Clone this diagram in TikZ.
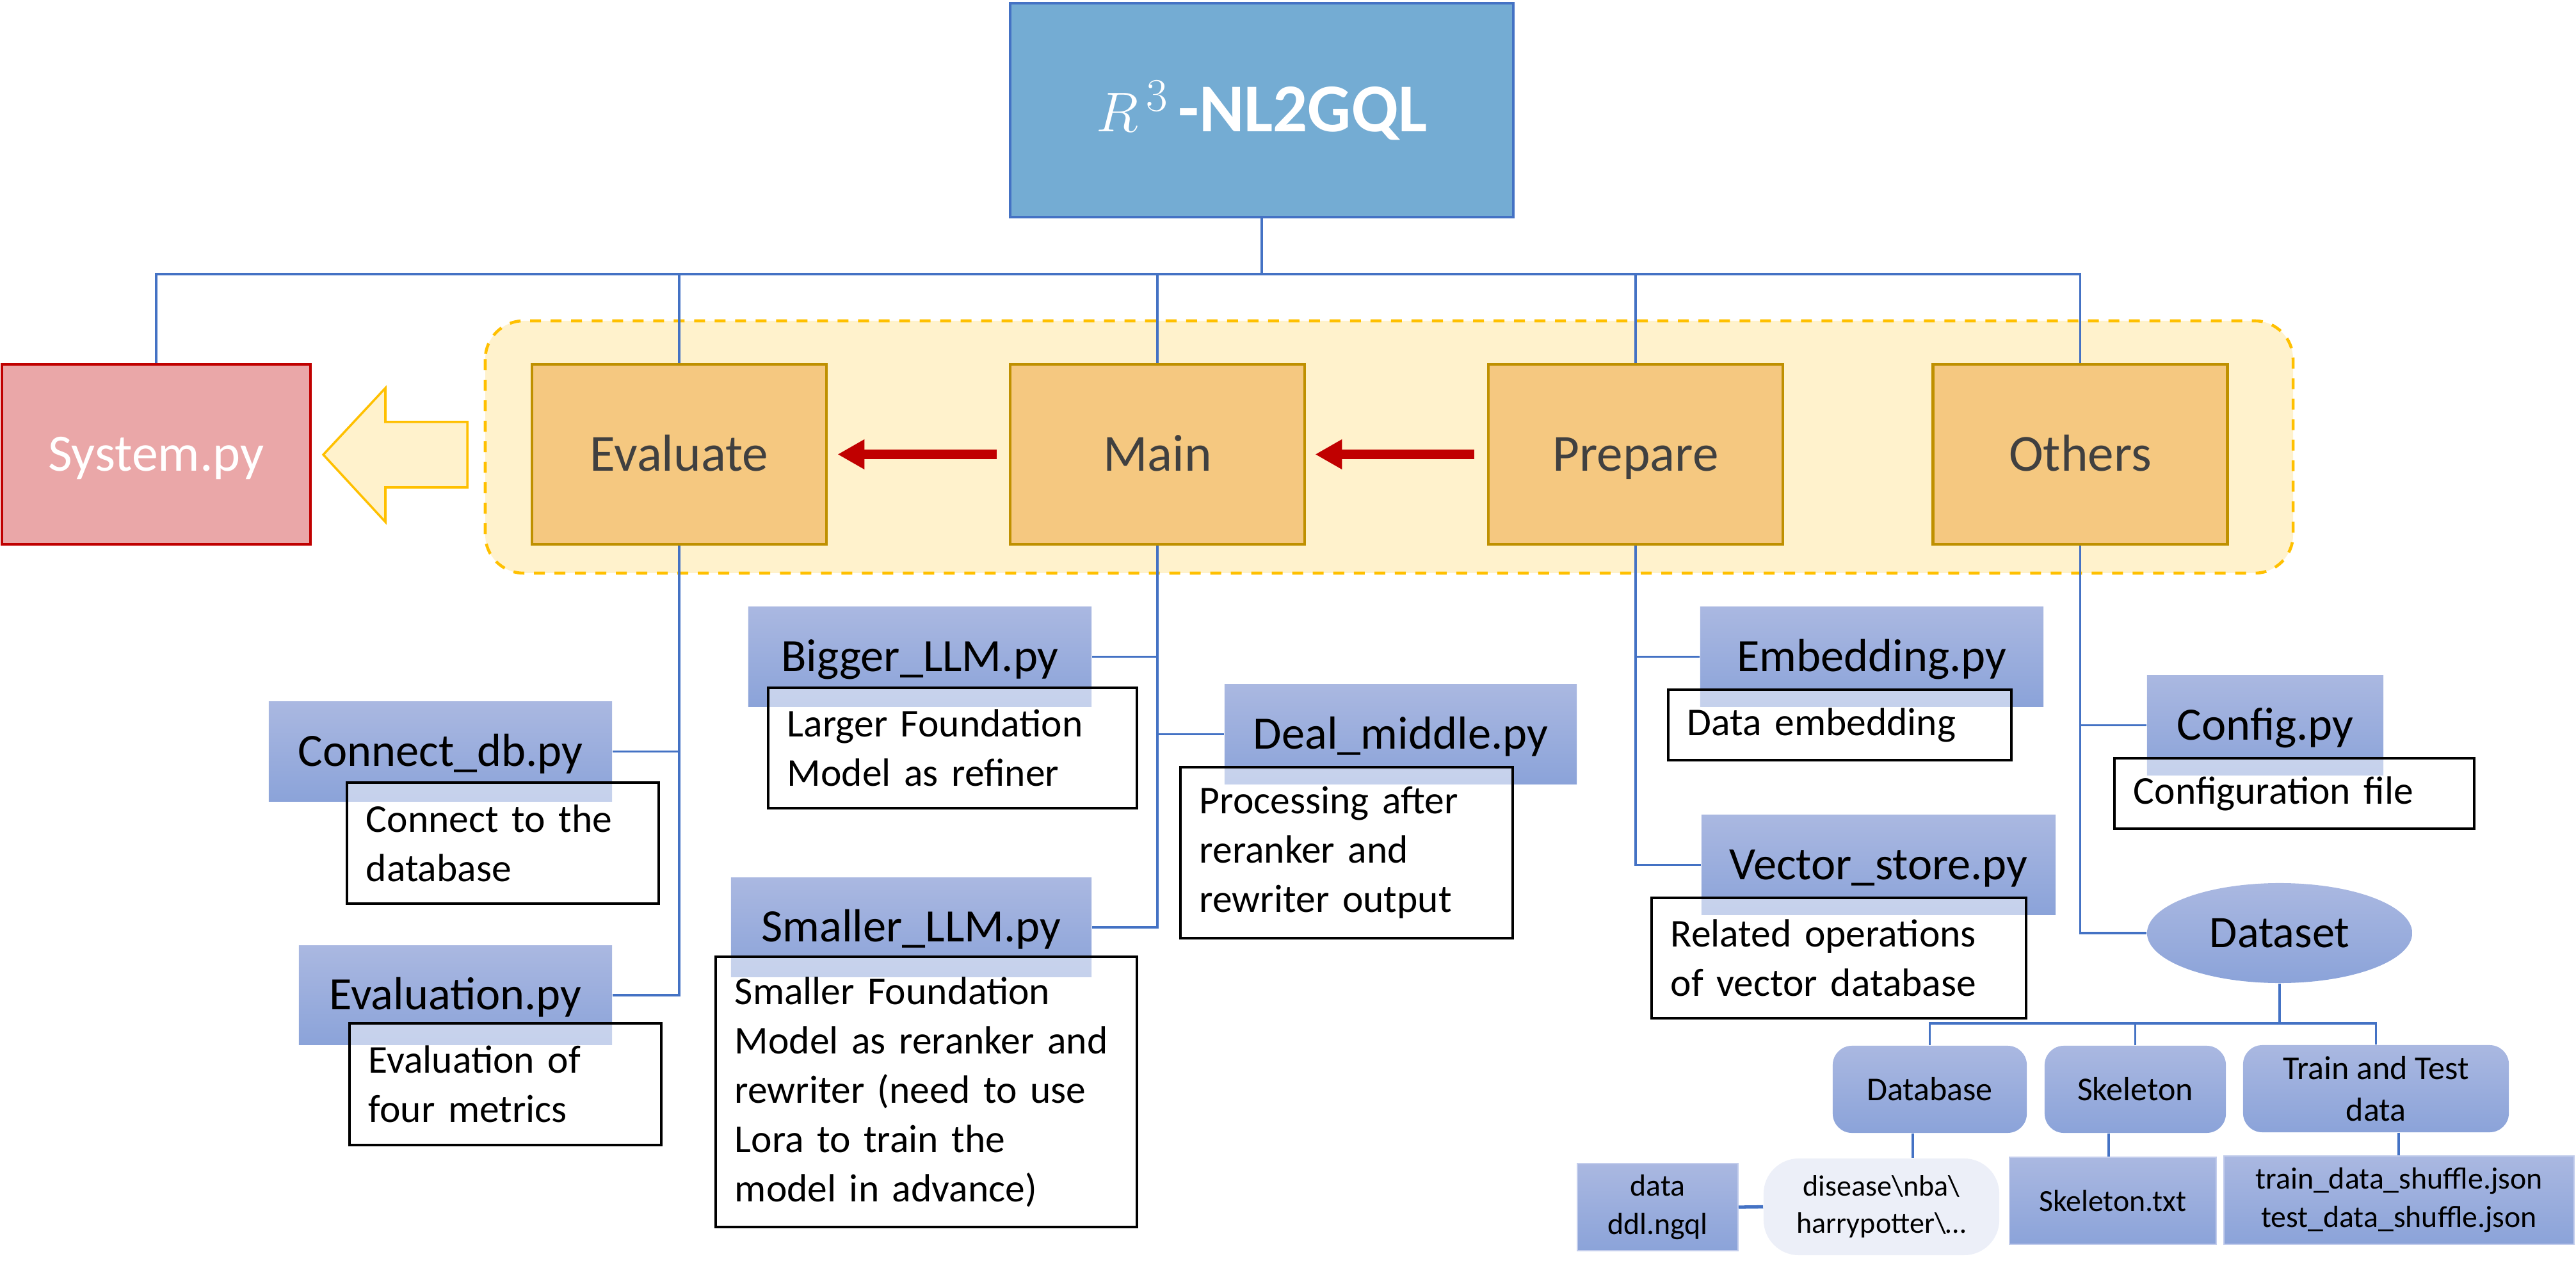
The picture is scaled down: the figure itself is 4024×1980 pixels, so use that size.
\documentclass[tikz,border=0pt]{standalone}
\usepackage{fontspec}
\setmainfont{Carlito}
\usetikzlibrary{arrows.meta,shapes.geometric}
\definecolor{connblue}{HTML}{4472C4}
\definecolor{titlefill}{HTML}{74ACD3}
\definecolor{sysfill}{HTML}{EAA7A8}
\definecolor{sysborder}{HTML}{C00000}
\definecolor{orangefill}{HTML}{F5C880}
\definecolor{orangeborder}{HTML}{BF9000}
\definecolor{groupfill}{HTML}{FFF2CC}
\definecolor{groupborder}{HTML}{FFC000}
\definecolor{labelgray}{HTML}{404040}
\definecolor{arrowred}{HTML}{C00000}
\definecolor{bluetop}{HTML}{AAB8E1}
\definecolor{bluebot}{HTML}{8BA3D9}
\definecolor{leafborder}{HTML}{C3CDEC}
\definecolor{hpfill}{HTML}{ECEFF8}
\tikzset{
  conn/.style={draw=connblue, line width=1.1pt},
  titlebox/.style={draw=connblue, fill=titlefill, line width=1.2pt, text=white, inner sep=0pt,
    text height=19.2pt, text depth=0pt,
    font=\fontsize{30.4pt}{36pt}\selectfont\bfseries},
  sysbox/.style={draw=sysborder, fill=sysfill, line width=1.2pt, text=white, inner sep=0pt,
    text height=14.7pt, text depth=0pt,
    font=\fontsize{23.3pt}{28pt}\selectfont},
  orangebox/.style={draw=orangeborder, fill=orangefill, line width=1.3pt, text=labelgray, inner sep=0pt,
    text height=14.6pt, text depth=0pt,
    font=\fontsize{23.1pt}{27pt}\selectfont},
  pybox/.style={top color=bluetop, bottom color=bluebot, draw=none, text=black, inner sep=0pt,
    text height=13.0pt, text depth=0pt,
    font=\fontsize{20.6pt}{24pt}\selectfont},
  descbox/.style={draw=black, line width=1.1pt, fill=white, fill opacity=0.5, draw opacity=1, text opacity=1,
    align=left, inner xsep=0.3cm, inner ysep=0pt, text=black,
    font=\fontsize{17.5pt}{21.9pt}\selectfont},
  subbox/.style={top color=bluetop, bottom color=bluebot, draw=none, rounded corners=0.3cm, text=black,
    inner sep=0pt, align=center, font=\fontsize{14.8pt}{18.5pt}\selectfont},
  leafbox/.style={top color=bluetop, bottom color=bluebot, draw=leafborder, line width=0.5pt, text=black,
    inner sep=0pt, align=center, font=\fontsize{13.6pt}{17.2pt}\selectfont},
  redarrow/.style={draw=arrowred, line width=4pt, -{Triangle[length=0.42cm,width=0.44cm]}},
}
\begin{document}
\begin{tikzpicture}[x=0.01cm,y=-0.01cm]
\useasboundingbox (0,0) rectangle (4024,1980);

% group region
\path[fill=groupfill, draw=groupborder, line width=1.3pt, dash pattern=on 0.17cm off 0.15cm,
  rounded corners=0.6cm] (758,501) rectangle (3582,895);

% hollow block arrow towards System.py
\path[fill=groupfill, draw=groupborder, line width=1pt, line join=miter]
  (505,710) -- (602,606) -- (602,659) -- (730,659) -- (730,761) -- (602,761) -- (602,815) -- cycle;

% top level
\node[titlebox, minimum width=7.86cm, minimum height=3.34cm] (title) at (1971,172) {$R^{\,3}\,$-NL2GQL};
\node[sysbox, minimum width=4.82cm, minimum height=2.81cm] (system) at (244,709.5) {System.py};
\node[orangebox, minimum width=4.60cm, minimum height=2.81cm] (evaluate) at (1061,709.5) {Evaluate};
\node[orangebox, minimum width=4.60cm, minimum height=2.81cm] (main) at (1808,709.5) {Main};
\node[orangebox, minimum width=4.60cm, minimum height=2.81cm] (prepare) at (2555,709.5) {Prepare};
\node[orangebox, minimum width=4.60cm, minimum height=2.81cm] (others) at (3249.5,709.5) {Others};

\coordinate (bus) at (0,428);
\coordinate (bus2) at (0,1598);

% Evaluate branch
\node[pybox, minimum width=5.36cm, minimum height=1.55cm] (connectdb) at (688,1173.5) {Connect\_db.py};
\node[descbox, text width=4.27cm, minimum height=1.89cm] (connectdesc) at (785.5,1316.5) {Connect to the\\database};
\node[pybox, minimum width=4.89cm, minimum height=1.54cm] (evaluation) at (711.5,1554) {Evaluation.py};
\node[descbox, text width=4.27cm, minimum height=1.90cm] (evaldesc) at (789.5,1693) {Evaluation of\\four metrics};

% Main branch
\node[pybox, minimum width=5.36cm, minimum height=1.55cm] (bigger) at (1437,1025.5) {Bigger\_LLM.py};
\node[descbox, text width=5.16cm, minimum height=1.88cm] (biggerdesc) at (1488,1168) {Larger Foundation\\Model as refiner};
\node[pybox, minimum width=5.50cm, minimum height=1.55cm] (deal) at (2188,1146.5) {Deal\_middle.py};
\node[descbox, text width=4.59cm, minimum height=2.67cm] (dealdesc) at (2103.5,1331.5) {Processing after\\reranker and\\rewriter output};
\node[pybox, minimum width=5.63cm, minimum height=1.54cm] (smaller) at (1423.5,1448) {Smaller\_LLM.py};
\node[descbox, text width=5.98cm, minimum height=4.22cm] (smallerdesc) at (1447,1705) {Smaller Foundation\\Model as reranker and\\rewriter (need to use\\Lora to train the\\model in advance)};

% Prepare branch
\node[pybox, minimum width=5.36cm, minimum height=1.55cm] (embed) at (2924,1025.5) {Embedding.py};
\node[descbox, text width=4.76cm, minimum height=1.10cm] (embeddesc) at (2874,1132) {Data embedding};
\node[pybox, minimum width=5.53cm, minimum height=1.55cm] (vector) at (2934.5,1350.5) {Vector\_store.py};
\node[descbox, text width=5.25cm, minimum height=1.88cm] (vectordesc) at (2872.5,1496) {Related operations\\of vector database};

% Others branch
\node[pybox, minimum width=3.69cm, minimum height=1.55cm] (config) at (3538.5,1132.5) {Config.py};
\node[descbox, text width=5.02cm, minimum height=1.10cm] (configdesc) at (3584,1239) {Configuration file};
\node[pybox, ellipse, minimum width=4.14cm, minimum height=1.56cm, text height=12.6pt,
  font=\fontsize{20pt}{24pt}\selectfont] (dataset) at (3561,1457) {Dataset};

% Dataset children
\node[subbox, minimum width=3.03cm, minimum height=1.36cm] (database) at (3014.5,1701) {Database};
\node[subbox, minimum width=2.83cm, minimum height=1.36cm] (skeleton) at (3335.5,1701) {Skeleton};
\node[subbox, minimum width=4.15cm, minimum height=1.36cm] (traintest) at (3711.5,1700) {Train and Test\\data};

\node[leafbox, minimum width=2.51cm, minimum height=1.36cm] (ddl) at (2589.5,1885) {data\\ddl.ngql};
\node[fill=hpfill, draw=none, rounded corners=0.55cm, minimum width=3.68cm, minimum height=1.51cm,
  inner sep=0pt, align=center, font=\fontsize{13.1pt}{16.5pt}\selectfont] (hp) at (2939,1884.5)
  {disease\textbackslash nba\textbackslash\\harrypotter\textbackslash …};
\node[leafbox, minimum width=3.23cm, minimum height=1.36cm] (skeltxt) at (3300.5,1875) {Skeleton.txt};
\node[leafbox, minimum width=5.47cm, minimum height=1.38cm] (json) at (3747.5,1874) {train\_data\_shuffle.json\\test\_data\_shuffle.json};

% connectors: top bus
\draw[conn] (title.south) -- (title.south |- bus);
\draw[conn] (system.north) -- (system.north |- bus) -- (others.north |- bus) -- (others.north);
\draw[conn] (evaluate.north) -- (evaluate.north |- bus);
\draw[conn] (main.north) -- (main.north |- bus);
\draw[conn] (prepare.north) -- (prepare.north |- bus);

% Evaluate
\draw[conn] (evaluate.south) -- (evaluate.south |- evaluation.east) -- (evaluation.east);
\draw[conn] (connectdb.east) -- (connectdb.east -| evaluate.south);
% Main
\draw[conn] (main.south) -- (main.south |- smaller.east) -- (smaller.east);
\draw[conn] (bigger.east) -- (bigger.east -| main.south);
\draw[conn] (deal.west) -- (deal.west -| main.south);
% Prepare
\draw[conn] (prepare.south) -- (prepare.south |- vector.west) -- (vector.west);
\draw[conn] (embed.west) -- (embed.west -| prepare.south);
% Others
\draw[conn] (others.south) -- (others.south |- dataset.west) -- (dataset.west);
\draw[conn] (config.west) -- (config.west -| others.south);
% Dataset
\draw[conn] (dataset.south) -- (dataset.south |- bus2);
\draw[conn] (database.north) -- (database.north |- bus2) -- (traintest.north |- bus2) -- (traintest.north);
\draw[conn] (skeleton.north) -- (skeleton.north |- bus2);
\draw[conn] ([xshift=-0.265cm]database.south) -- ([xshift=-0.265cm]database.south |- hp.north);
\draw[conn] ([xshift=-0.415cm]skeleton.south) -- ([xshift=-0.415cm]skeleton.south |- skeltxt.north);
\draw[conn] ([xshift=0.355cm]traintest.south) -- ([xshift=0.355cm]traintest.south |- json.north);
\draw[conn, line width=1.5pt] (ddl.east) -- (hp.west);

% red flow arrows
\draw[redarrow, shorten <=0.19cm, shorten >=0.15cm] (main.west) -- (evaluate.east);
\draw[redarrow, shorten <=0.20cm, shorten >=0.14cm] (prepare.west) -- (main.east);
\end{tikzpicture}
\end{document}
